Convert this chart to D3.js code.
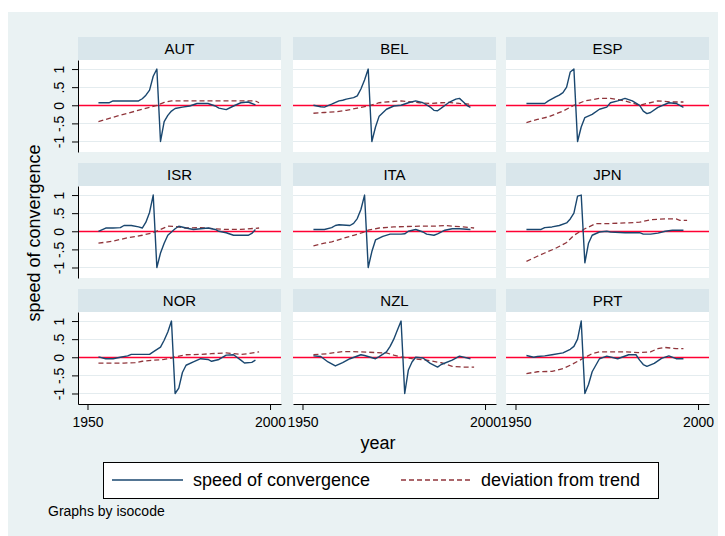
<!DOCTYPE html>
<html>
<head>
<meta charset="utf-8">
<script src="https://cdn.jsdelivr.net/npm/d3@7"></script>
<style>
    body { margin: 0; background: #fff; }
    svg text { font-family: "Liberation Sans", Arial, Helvetica, sans-serif; fill: #000; }
</style>
</head>
<body>
<div id="chart"></div>
<script>

// panels, in the order Stata draws them (by isocode)
const countries = ["AUT", "BEL", "ESP", "ISR", "ITA", "JPN", "NOR", "NZL", "PRT"];

const yTicks = [-1, -0.5, 0, 0.5, 1];
const yTickLabels = ["-1", "-.5", "0", ".5", "1"];
const xTicks = [1950, 2000];

const seriesLabels = ["speed of convergence", "deviation from trend"];

// [year, value]
const autSpeed = [[1953,.07],[1956,.07],[1957,.12],[1964,.12],[1965,.18],[1966,.28],[1967,.42],[1968,.8],[1969,1],[1970,-1],[1971,-.45],[1972,-.28],[1973,-.16],[1974,-.09],[1976,-.05],[1978,-.02],[1980,.05],[1983,.05],[1985,-.02],[1986,-.08],[1988,-.12],[1990,-.02],[1992,.07],[1994,.09],[1996,.01]];
const autTrend = [[1953,-.45],[1957,-.33],[1961,-.22],[1965,-.11],[1969,0],[1971,.08],[1973,.12],[1980,.12],[1990,.12],[1996,.12],[1997,.07]];

const belSpeed = [[1953,0],[1955,-.04],[1956,-.05],[1958,.03],[1960,.12],[1961,.14],[1962,.17],[1964,.21],[1965,.26],[1966,.45],[1967,.7],[1968,1],[1969,-1],[1970,-.6],[1971,-.3],[1973,-.11],[1975,-.02],[1977,0],[1979,.07],[1981,.12],[1983,.07],[1985,-.05],[1986,-.14],[1987,-.15],[1988,-.08],[1990,.07],[1992,.17],[1993,.19],[1994,.1],[1995,0],[1996,-.06]];
const belTrend = [[1953,-.22],[1956,-.2],[1959,-.18],[1962,-.14],[1965,-.08],[1968,-.02],[1971,.07],[1974,.1],[1977,.12],[1979,.1],[1982,.07],[1985,.05],[1988,.07],[1990,.08],[1993,.05],[1996,.03]];

const espSpeed = [[1953,.05],[1958,.05],[1959,.12],[1961,.23],[1962,.28],[1963,.35],[1964,.5],[1965,.92],[1966,1],[1967,-1],[1968,-.6],[1969,-.34],[1971,-.25],[1973,-.11],[1975,-.05],[1976,.07],[1978,.12],[1980,.19],[1982,.12],[1984,0],[1985,-.16],[1986,-.23],[1987,-.2],[1989,-.06],[1992,.07],[1994,.05],[1996,-.06]];
const espTrend = [[1953,-.48],[1956,-.39],[1959,-.32],[1963,-.16],[1966,0],[1969,.12],[1973,.19],[1976,.19],[1980,.12],[1984,0],[1986,.05],[1989,.12],[1993,.09],[1996,.09]];

const isrSpeed = [[1953,0],[1955,.09],[1957,.09],[1959,.1],[1960,.16],[1962,.16],[1964,.12],[1965,.09],[1966,.25],[1967,.52],[1968,1],[1969,-1],[1970,-.6],[1971,-.33],[1972,-.11],[1974,.07],[1975,.14],[1977,.09],[1979,.05],[1981,.07],[1983,.09],[1985,.05],[1986,0],[1988,-.04],[1990,-.11],[1992,-.11],[1994,-.11],[1995,-.06],[1996,.05]];
const isrTrend = [[1953,-.33],[1957,-.27],[1961,-.18],[1965,-.11],[1968,-.04],[1970,.05],[1972,.14],[1974,.13],[1977,.09],[1981,.1],[1985,.07],[1988,.05],[1992,.05],[1997,.09]];

const itaSpeed = [[1953,.05],[1956,.05],[1958,.1],[1959,.16],[1960,.18],[1963,.16],[1964,.22],[1965,.35],[1966,.6],[1967,1],[1968,-1],[1969,-.56],[1970,-.24],[1972,-.14],[1974,-.08],[1977,-.08],[1978,-.07],[1979,0],[1981,.05],[1983,-.02],[1984,-.08],[1986,-.11],[1987,-.07],[1989,.03],[1991,.07],[1993,.07],[1996,.05]];
const itaTrend = [[1953,-.4],[1956,-.33],[1958,-.29],[1961,-.2],[1964,-.11],[1967,-.02],[1968,.03],[1971,.09],[1975,.12],[1978,.13],[1982,.14],[1986,.14],[1989,.16],[1991,.14],[1994,.12],[1997,.09]];

const jpnSpeed = [[1953,.05],[1957,.05],[1958,.1],[1960,.12],[1962,.16],[1964,.23],[1965,.34],[1966,.5],[1967,.97],[1968,1],[1969,-.87],[1970,-.33],[1971,-.11],[1973,-.02],[1975,0],[1976,-.02],[1980,-.04],[1984,-.04],[1985,-.08],[1987,-.08],[1989,-.05],[1991,0],[1993,.03],[1996,.03]];
const jpnTrend = [[1953,-.83],[1956,-.69],[1958,-.6],[1961,-.47],[1964,-.31],[1966,-.11],[1969,.07],[1972,.21],[1975,.21],[1980,.23],[1984,.25],[1987,.32],[1991,.34],[1994,.34],[1995,.3],[1997,.3]];

const norSpeed = [[1953,.01],[1955,-.04],[1957,-.04],[1959,0],[1961,.04],[1962,.08],[1967,.08],[1968,.15],[1970,.28],[1971,.47],[1972,.7],[1973,1],[1974,-1],[1975,-.85],[1976,-.42],[1977,-.22],[1979,-.13],[1981,-.04],[1983,-.06],[1984,-.11],[1986,-.06],[1988,.06],[1990,.07],[1992,-.08],[1993,-.16],[1995,-.14],[1996,-.08]];
const norTrend = [[1953,-.16],[1956,-.16],[1960,-.16],[1963,-.15],[1965,-.11],[1968,-.08],[1971,-.06],[1973,-.02],[1974,.01],[1977,.07],[1981,.08],[1984,.1],[1988,.12],[1992,.08],[1994,.1],[1997,.15]];

const nzlSpeed = [[1953,.04],[1955,.02],[1957,-.13],[1959,-.24],[1961,-.15],[1963,-.04],[1966,.07],[1967,.05],[1970,-.04],[1971,.02],[1973,.15],[1974,.3],[1975,.5],[1976,.75],[1977,1],[1978,-1],[1979,-.35],[1980,-.13],[1981,0],[1983,-.02],[1985,-.17],[1987,-.27],[1988,-.2],[1991,-.08],[1993,.03],[1996,-.04]];
const nzlTrend = [[1953,.07],[1957,.1],[1961,.16],[1966,.15],[1970,.13],[1973,.12],[1975,.06],[1977,.01],[1980,-.04],[1984,-.08],[1988,-.15],[1991,-.25],[1994,-.27],[1997,-.27]];

const prtSpeed = [[1953,.05],[1955,0],[1956,.02],[1958,.04],[1960,.07],[1963,.12],[1964,.17],[1965,.22],[1966,.3],[1967,.5],[1968,1],[1969,-1],[1970,-.75],[1971,-.4],[1973,-.04],[1975,.03],[1978,-.04],[1981,.07],[1983,.07],[1984,-.08],[1985,-.2],[1986,-.25],[1988,-.17],[1990,-.03],[1992,.04],[1994,-.04],[1996,-.04]];
const prtTrend = [[1953,-.45],[1956,-.4],[1960,-.39],[1963,-.31],[1965,-.22],[1968,-.06],[1971,.1],[1973,.15],[1976,.15],[1980,.15],[1984,.13],[1987,.15],[1989,.24],[1991,.27],[1994,.24],[1996,.24]];

const speedByCountry = {AUT: autSpeed, BEL: belSpeed, ESP: espSpeed, ISR: isrSpeed, ITA: itaSpeed, JPN: jpnSpeed, NOR: norSpeed, NZL: nzlSpeed, PRT: prtSpeed};
const trendByCountry = {AUT: autTrend, BEL: belTrend, ESP: espTrend, ISR: isrTrend, ITA: itaTrend, JPN: jpnTrend, NOR: norTrend, NZL: nzlTrend, PRT: prtTrend};


class PanelGrid {

    constructor(parentElement) {
        this._parentElement = parentElement;
        this.initVis();
    }

    initVis() {
        let vis = this;

        vis.width = 725;
        vis.height = 536;

        // panel geometry
        vis.colX = [78, 293, 506];
        vis.rowY = [37, 163, 289];
        vis.plotW = 203;
        vis.stripH = 23;
        vis.plotH = 92;

        vis.colors = {bg: "#eaf2f3", strip: "#d9e6eb", grid: "#e4ecef", speed: "#1a476f", trend: "#90353b", zero: "#ff0033"};

        vis.svg = d3.select("#" + vis._parentElement).append("svg")
            .attr("width", vis.width)
            .attr("height", vis.height);

        vis.svg.append("rect")
            .attr("x", 8).attr("y", 12)
            .attr("width", 710).attr("height", 524)
            .attr("fill", vis.colors.bg);

        // shared scales
        vis.x = d3.scaleLinear()
            .domain([1947.4, 2003])
            .range([0, vis.plotW]);

        vis.y = d3.scaleLinear()
            .domain([-1.29, 1.25])
            .range([vis.plotH, 0]);

        vis.line = d3.line()
            .x(d => vis.x(d[0]))
            .y(d => vis.y(d[1]));

        countries.forEach((c, i) => vis.drawPanel(c, i % 3, Math.floor(i / 3)));

        vis.drawTitles();
        vis.drawLegend();
    }

    drawPanel(country, col, row) {
        let vis = this;

        let g = vis.svg.append("g")
            .attr("transform", "translate(" + vis.colX[col] + "," + vis.rowY[row] + ")");

        g.append("rect")
            .attr("width", vis.plotW)
            .attr("height", vis.stripH)
            .attr("fill", vis.colors.strip);

        g.append("text")
            .attr("x", vis.plotW / 2)
            .attr("y", 17)
            .attr("text-anchor", "middle")
            .attr("font-size", 15)
            .text(country);

        let p = g.append("g")
            .attr("transform", "translate(0," + vis.stripH + ")");

        p.append("rect")
            .attr("width", vis.plotW)
            .attr("height", vis.plotH)
            .attr("fill", "#fff");

        // snap the thin horizontal rules to the pixel grid
        let snap = v => Math.round(vis.y(v)) + 0.5;

        p.selectAll(".grid")
            .data(yTicks)
            .enter().append("line")
            .attr("class", "grid")
            .attr("x1", 0).attr("x2", vis.plotW)
            .attr("y1", snap).attr("y2", snap)
            .attr("stroke", vis.colors.grid)
            .attr("stroke-width", 1);

        p.append("line")
            .attr("x1", 0).attr("x2", vis.plotW)
            .attr("y1", snap(0)).attr("y2", snap(0))
            .attr("stroke", vis.colors.zero)
            .attr("stroke-width", 1.6);

        p.append("path")
            .datum(trendByCountry[country])
            .attr("fill", "none")
            .attr("stroke", vis.colors.trend)
            .attr("stroke-width", 1.3)
            .attr("stroke-dasharray", "5,3")
            .attr("d", vis.line);

        p.append("path")
            .datum(speedByCountry[country])
            .attr("fill", "none")
            .attr("stroke", vis.colors.speed)
            .attr("stroke-width", 1.4)
            .attr("stroke-linejoin", "round")
            .attr("d", vis.line);

        // y axis only on the first column
        if (col === 0) {
            let yAxis = d3.axisLeft(vis.y)
                .tickValues(yTicks)
                .tickFormat((d, i) => yTickLabels[i])
                .tickSize(6)
                .tickSizeOuter(0);
            let ya = p.append("g").attr("class", "y-axis").call(yAxis);
            ya.selectAll("text")
                .attr("x", null).attr("dy", null)
                .attr("font-size", 14)
                .attr("text-anchor", "middle")
                .attr("transform", "translate(-14,0) rotate(-90)");
        }

        // x axis only on the bottom row
        if (row === 2) {
            let xAxis = d3.axisBottom(vis.x)
                .tickValues(xTicks)
                .tickFormat(d3.format("d"))
                .tickSize(6)
                .tickSizeOuter(0);
            let xa = p.append("g")
                .attr("class", "x-axis")
                .attr("transform", "translate(0," + vis.plotH + ")")
                .call(xAxis);
            xa.selectAll("text")
                .attr("y", 23).attr("dy", null)
                .attr("font-size", 14);
        }

        p.selectAll(".domain, .tick line").attr("stroke", "#000");
    }

    drawTitles() {
        let vis = this;

        vis.svg.append("text")
            .attr("transform", "translate(40,233) rotate(-90)")
            .attr("text-anchor", "middle")
            .attr("font-size", 18)
            .text("speed of convergence");

        vis.svg.append("text")
            .attr("x", 378).attr("y", 449)
            .attr("text-anchor", "middle")
            .attr("font-size", 18)
            .text("year");

        vis.svg.append("text")
            .attr("x", 48).attr("y", 516)
            .attr("font-size", 14)
            .text("Graphs by isocode");
    }

    drawLegend() {
        let vis = this;

        let lg = vis.svg.append("g").attr("class", "legend");

        lg.append("rect")
            .attr("x", 103.5).attr("y", 462.5)
            .attr("width", 555).attr("height", 36)
            .attr("fill", "#fff")
            .attr("stroke", "#000");

        let items = [
            {x1: 112, x2: 183, tx: 193, color: vis.colors.speed, dash: null, w: 1.4},
            {x1: 401, x2: 471, tx: 481, color: vis.colors.trend, dash: "5,3", w: 1.3}
        ];

        items.forEach((it, i) => {
            lg.append("line")
                .attr("x1", it.x1).attr("x2", it.x2)
                .attr("y1", 480).attr("y2", 480)
                .attr("stroke", it.color)
                .attr("stroke-width", it.w)
                .attr("stroke-dasharray", it.dash);
            lg.append("text")
                .attr("x", it.tx).attr("y", 486)
                .attr("font-size", 18)
                .text(seriesLabels[i]);
        });
    }
}

new PanelGrid("chart");

</script>
</body>
</html>
